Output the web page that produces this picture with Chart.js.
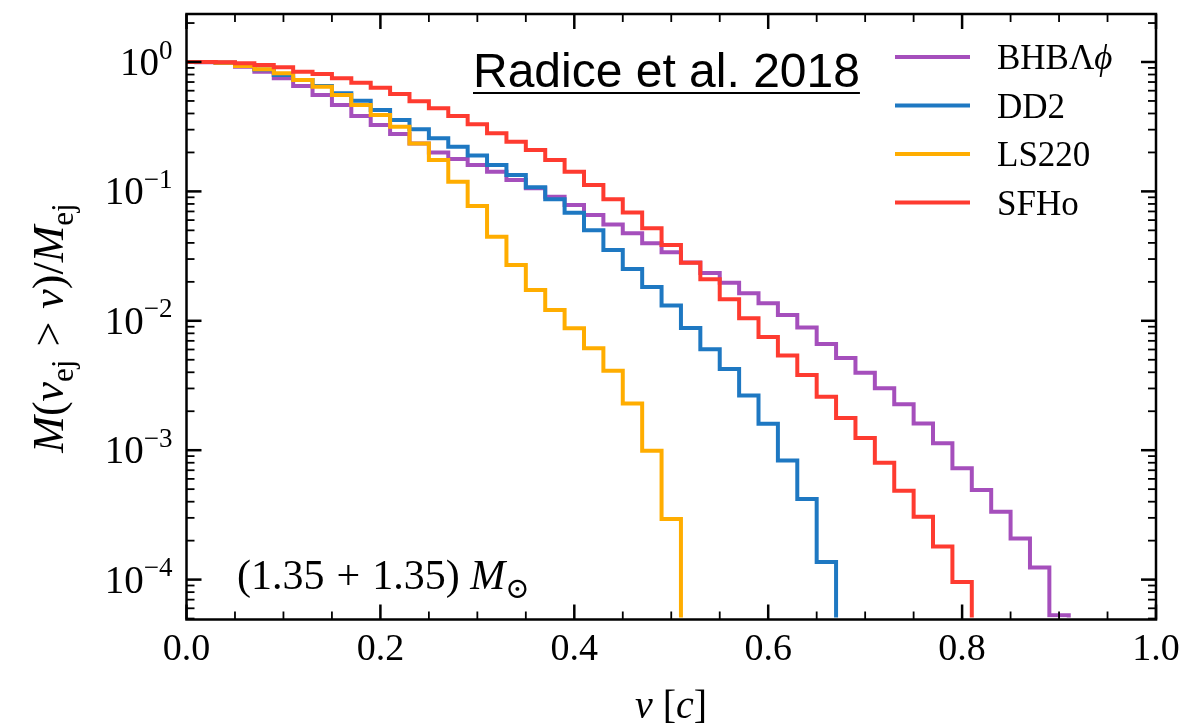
<!DOCTYPE html>
<html><head><meta charset="utf-8">
<script src="https://cdn.jsdelivr.net/npm/chart.js@4.4.1/dist/chart.umd.min.js"></script>
<style>html,body{margin:0;padding:0;background:#fff}#wrap{width:1189px;height:728px}</style>
</head><body><div id="wrap"><canvas id="c" width="1189" height="728"></canvas></div>
<script>
// ---- data ----
const velocityBins = [0.00,0.02,0.04,0.06,0.08,0.10,0.12,0.14,0.16,0.18,0.20,0.22,0.24,0.26,0.28,0.30,0.32,0.34,0.36,0.38,0.40,0.42,0.44,0.46,0.48,0.50,0.52,0.54,0.56,0.58,0.60,0.62,0.64,0.66,0.68,0.70,0.72,0.74,0.76,0.78,0.80,0.82,0.84,0.86,0.88,0.90,0.92];
const seriesNames = ['BHBΛϕ','DD2','LS220','SFHo'];
const bhbValues = [1.0,0.995,0.985,0.920,0.841,0.748,0.652,0.556,0.465,0.383,0.326,0.278,0.235,0.200,0.178,0.160,0.142,0.1225,0.1057,0.0910,0.0785,0.0657,0.0555,0.0475,0.0397,0.0339,0.0282,0.0234,0.0197,0.0163,0.01365,0.0111,0.00888,0.00662,0.00516,0.00397,0.00301,0.00226,0.00161,0.00113,0.000724,0.000492,0.000334,0.000208,0.000124,0.000053,0];
const dd2Values = [1.0,0.998,0.985,0.931,0.875,0.793,0.726,0.652,0.573,0.502,0.426,0.356,0.302,0.257,0.2215,0.1894,0.160,0.1338,0.1076,0.0869,0.0684,0.0500,0.0352,0.0251,0.01825,0.01313,0.0088,0.00602,0.00424,0.00265,0.0016,0.000833,0.00042,0.000137,0];
const ls220Values = [1.0,0.998,0.988,0.931,0.878,0.818,0.726,0.644,0.556,0.465,0.389,0.316,0.235,0.175,0.1188,0.0771,0.0447,0.0270,0.0173,0.01212,0.00875,0.00613,0.00411,0.0023,0.00099,0.000294,0];
const sfhoValues = [1.0,1.0,0.995,0.977,0.948,0.910,0.841,0.808,0.748,0.692,0.633,0.566,0.498,0.440,0.383,0.331,0.281,0.242,0.209,0.175,0.142,0.112,0.0871,0.0687,0.0518,0.0385,0.0281,0.0209,0.01466,0.01045,0.0075,0.0054,0.00381,0.00259,0.00177,0.00124,0.0008,0.000486,0.000306,0.00018,0.000096,0];
const xTickValues = [0.0,0.2,0.4,0.6,0.8,1.0];
const xMinorTickValues = [0.05,0.1,0.15,0.25,0.3,0.35,0.45,0.5,0.55,0.65,0.7,0.75,0.85,0.9,0.95];
const yTickValues = [1e-4,1e-3,1e-2,1e-1,1];
const yTickExponents = ['−4','−3','−2','−1','0'];
const seriesColors = ['#a54fbc','#1e78c2','#ffad00','#fe3b30'];

const SERIF = '"Liberation Serif","DejaVu Serif",serif';
const SANS = '"Liberation Sans","Open Sans",sans-serif';
const LOG_FLOOR = 1e-9; // zero mass is drawn below the axis, like a clipped log plot

function pts(vals){ return vals.map((v,i)=>({x:velocityBins[i], y: v>0 ? v : LOG_FLOOR})); }
const allValues = [bhbValues, dd2Values, ls220Values, sfhoValues];

const datasets = allValues.map((vals,i)=>({
  label: seriesNames[i],
  data: pts(vals),
  borderColor: seriesColors[i],
  backgroundColor: seriesColors[i],
  borderWidth: 4,
  pointRadius: 0,
  stepped: 'middle',
  fill: false,
  order: 3 - i,
  clip: {left:0, top:0, right:0, bottom:-2}
}));

function drawRich(ctx, parts, x, y, size, align){
  let total = 0;
  const fnt = p => (p.it?'italic ':'') + Math.round(p.sub ? size*0.7 : (p.sup ? size*0.7 : size)) + 'px ' + SERIF;
  const widths = parts.map(p=>{ ctx.font = fnt(p); const w = ctx.measureText(p.t).width + (p.sp||0); total += w; return w; });
  let cx = align==='center' ? x - total/2 : (align==='right' ? x-total : x);
  ctx.textBaseline = 'alphabetic';
  ctx.textAlign = 'left';
  parts.forEach((p,i)=>{
    ctx.font = fnt(p);
    ctx.fillText(p.t, cx + (p.sp||0)/2, y + (p.sub ? size*0.22 : 0) - (p.sup ? size*0.42 : 0));
    cx += widths[i];
  });
  return total;
}

const decor = {
  id:'decor',
  afterDraw(chart){
    const ctx = chart.ctx, a = chart.chartArea, xs = chart.scales.x, ys = chart.scales.y;
    ctx.save();
    ctx.strokeStyle = '#000'; ctx.fillStyle = '#000';
    ctx.lineWidth = 2.5;
    ctx.strokeRect(a.left, a.top, a.right-a.left, a.bottom-a.top);
    const tick = (x1,y1,x2,y2,w)=>{ctx.lineWidth=w;ctx.beginPath();ctx.moveTo(x1,y1);ctx.lineTo(x2,y2);ctx.stroke();};
    xTickValues.forEach(v=>{const px=xs.getPixelForValue(v); tick(px,a.bottom,px,a.bottom-15,2.5); tick(px,a.top,px,a.top+15,2.5);});
    xMinorTickValues.forEach(v=>{const px=xs.getPixelForValue(v); tick(px,a.bottom,px,a.bottom-8,1.8); tick(px,a.top,px,a.top+8,1.8);});
    yTickValues.forEach(v=>{const py=ys.getPixelForValue(v); tick(a.left,py,a.left+15,py,2.5); tick(a.right,py,a.right-15,py,2.5);});
    [1e-5,1e-4,1e-3,1e-2,1e-1,1].forEach(d=>{ for(let m=2;m<=9;m++){ const v=d*m; if(v<ys.min||v>ys.max) continue; const py=ys.getPixelForValue(v); tick(a.left,py,a.left+8,py,1.8); tick(a.right,py,a.right-8,py,1.8);} });
    // y tick labels (10 with raised exponent)
    ctx.fillStyle = '#000';
    yTickValues.forEach((v,i)=>{
      const py = ys.getPixelForValue(v);
      drawRich(ctx,[{t:'10'},{t:yTickExponents[i],sup:true}], a.left-14, py+13, 39, 'right');
    });
    // legend
    chart.data.datasets.forEach((ds,i)=>{
      const ly = 57 + i*48.5;
      ctx.strokeStyle = ds.borderColor; ctx.lineWidth = 4;
      ctx.beginPath(); ctx.moveTo(895,ly); ctx.lineTo(970,ly); ctx.stroke();
      ctx.fillStyle = '#000';
      const lab = ds.label;
      if (lab.endsWith('ϕ')) drawRich(ctx,[{t:lab.slice(0,-1)},{t:'ϕ',it:true}],997,ly+12,35,'left');
      else drawRich(ctx,[{t:lab}],997,ly+12,35,'left');
    });
    ctx.fillStyle = '#000'; ctx.strokeStyle = '#000';
    ctx.font = '48px ' + SANS; ctx.textAlign='left'; ctx.textBaseline='alphabetic';
    const title = 'Radice et al. 2018';
    ctx.fillText(title, 473, 87);
    const tw = ctx.measureText(title).width;
    ctx.lineWidth = 2; ctx.beginPath(); ctx.moveTo(473,93); ctx.lineTo(473+tw,93); ctx.stroke();
    drawRich(ctx,[{t:'(1.35'},{t:'+',sp:24},{t:'1.35)'},{t:' '},{t:'M',it:true},{t:'⊙',sub:true}],237,589,42,'left');
    drawRich(ctx,[{t:'v',it:true},{t:' ['},{t:'c',it:true},{t:']'}],671,718,40,'center');
    ctx.save();
    ctx.translate(63, 328); ctx.rotate(-Math.PI/2);
    drawRich(ctx,[{t:'M',it:true},{t:'('},{t:'v',it:true},{t:'ej',sub:true},{t:'>',sp:26},{t:'v',it:true},{t:')/'},{t:'M',it:true},{t:'ej',sub:true}],0,0,44,'center');
    ctx.restore();
    ctx.restore();
  }
};

new Chart(document.getElementById('c'), {
  type:'line',
  data:{datasets},
  options:{
    responsive:false, animation:false, devicePixelRatio:1,
    layout:{padding:{left:0,right:33,top:14,bottom:0}},
    plugins:{legend:{display:false}, tooltip:{enabled:false}},
    scales:{
      x:{type:'linear', min:0, max:1,
         afterFit(s){ s.height = 108.5; s.paddingLeft = 0; s.paddingRight = 0; },
         afterBuildTicks(s){ s.ticks = xTickValues.map(v=>({value:v})); },
         grid:{display:false}, border:{display:false},
         ticks:{padding:0, color:'#000', font:{family:SERIF,size:38}, maxRotation:0, autoSkip:false,
                callback:(v)=>Number(v).toFixed(1)}},
      y:{type:'logarithmic', min:4.916e-5, max:2.349,
         afterFit(s){ s.width = 186.5; s.paddingTop = 0; s.paddingBottom = 0; },
         afterBuildTicks(s){ s.ticks = yTickValues.map(v=>({value:v})); },
         grid:{display:false}, border:{display:false},
         ticks:{display:false}}
    }
  },
  plugins:[decor]
});
</script>
</body></html>
